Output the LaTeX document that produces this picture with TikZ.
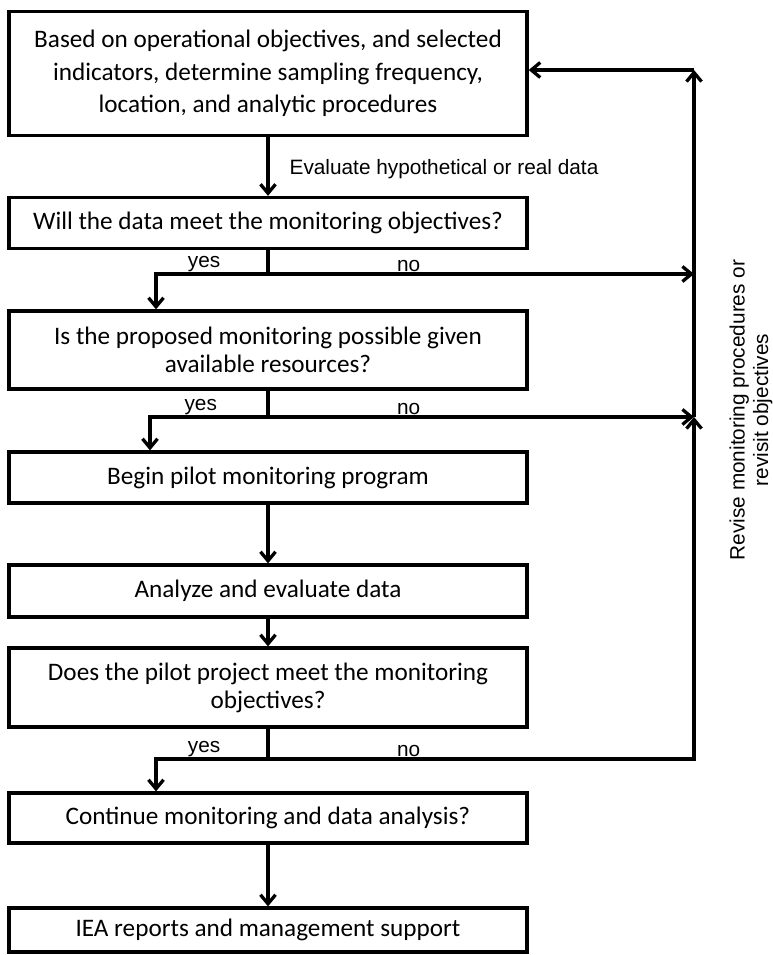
\documentclass[tikz,border=0pt]{standalone}
\usepackage{fontspec}
\setmainfont{Carlito}
\newfontfamily\arialfont{Liberation Sans}
\usetikzlibrary{arrows.meta,positioning,calc}

\begin{document}
\begin{tikzpicture}[
    x=1pt, y=-1pt,
    stp/.style={draw, line width=3.3pt, minimum width=518pt, inner sep=0pt, align=center, font=\fontsize{25.2}{28}\selectfont},
    arr/.style={-{Straight Barb[length=9pt,width=15pt]}, line width=3.3pt},
    lne/.style={line width=3.3pt},
    lbl/.style={font=\arialfont\fontsize{20.8}{23.5}\selectfont, inner sep=2pt},
    yn/.style={lbl, above, inner sep=0.5pt}
]
\useasboundingbox (0,0) rectangle (773,955);

\node[stp, minimum height=124pt, font=\fontsize{25.2}{32.5}\selectfont] (plan) at (268,73.5) {Based on operational objectives, and selected\\indicators, determine sampling frequency,\\location, and analytic procedures};
\node[stp, minimum height=51pt] (meet) at (268,223) {Will the data meet the monitoring objectives?};
\node[stp, minimum height=78pt] (res) at (268,350) {Is the proposed monitoring possible given\\available resources?};
\node[stp, minimum height=51pt] (pilot) at (268,477.5) {Begin pilot monitoring program};
\node[stp, minimum height=52pt] (anal) at (268,591) {Analyze and evaluate data};
\node[stp, minimum height=79pt] (proj) at (268,687.5) {Does the pilot project meet the monitoring\\objectives?};
\node[stp, minimum height=50pt] (cont) at (268,818) {Continue monitoring and data analysis?};
\node[stp, minimum height=44pt] (iea) at (268,930) {IEA reports and management support};

\coordinate (j2) at (268,274);
\coordinate (y2) at (156,274);
\coordinate (r2) at (694,274);
\coordinate (j3) at (268,417);
\coordinate (y3) at (150,417);
\coordinate (r3) at (694,417);
\coordinate (j6) at (268,759);
\coordinate (y6) at (156,759);
\coordinate (r6) at (694,759);
\coordinate (rt) at (694,70);

\node[lbl, rotate=90, align=center] (rev) at (751,410) {Revise monitoring procedures or\\revisit objectives};

\draw[arr] (plan) -- node[lbl, right=18pt, pos=0.55] {Evaluate hypothetical or real data} (meet);
\draw[lne] (meet) -- (j2);
\draw[arr] (j2) -- node[yn, pos=0.57] {yes} (y2) -- (y2 |- res.north);
\draw[arr] (j2) -- node[yn, pos=0.33] {no} (r2);
\draw[lne] (res) -- (j3);
\draw[arr] (j3) -- node[yn, pos=0.57] {yes} (y3) -- (y3 |- pilot.north);
\draw[arr] (j3) -- node[yn, pos=0.33] {no} (r3);
\draw[arr] (pilot) -- (anal);
\draw[arr] (anal) -- (proj);
\draw[lne] (proj) -- (j6);
\draw[arr] (j6) -- node[yn, pos=0.57] {yes} (y6) -- (y6 |- cont.north);
\draw[arr] (j6) -- node[yn, pos=0.33] {no} (r6) -- (r3);
\draw[arr] (r3) -- (rt);
\draw[arr] (rt) -- (rt -| plan.east);
\draw[arr] (cont) -- (iea);
\end{tikzpicture}
\end{document}
